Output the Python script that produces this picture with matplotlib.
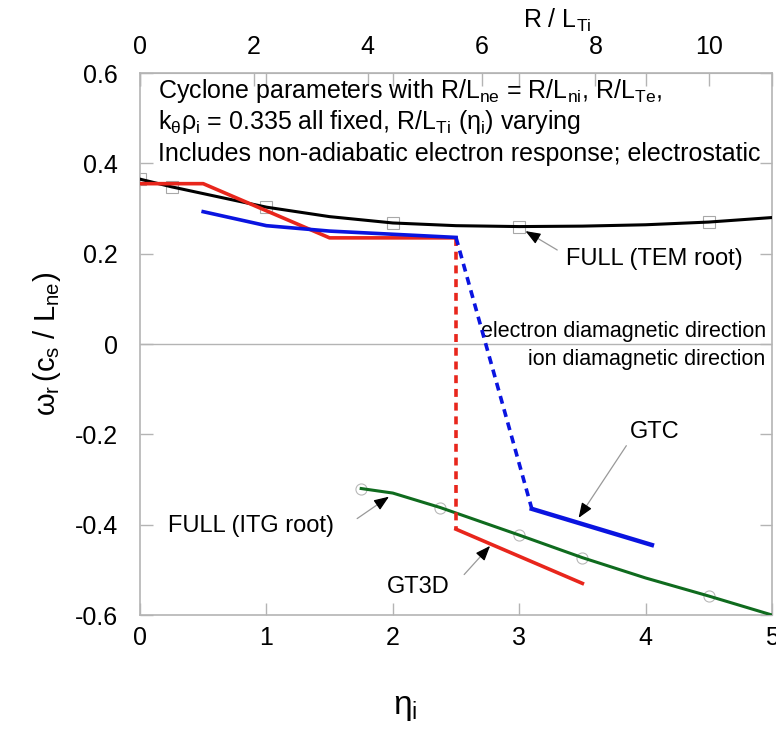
import numpy as np
import matplotlib
matplotlib.use("Agg")
import matplotlib.pyplot as plt

plt.rcParams['font.family'] = ['Liberation Sans', 'DejaVu Sans']
plt.rcParams['mathtext.fontset'] = 'custom'
plt.rcParams['mathtext.rm'] = 'Liberation Sans'
plt.rcParams['mathtext.it'] = 'Liberation Sans'
plt.rcParams['mathtext.sf'] = 'Liberation Sans'

# R/L_n for cyclone base case (top axis = eta_i * R/L_n)
r_ln = 2.22

# FULL (TEM root)
tem_eta = [0, 0.25, 0.5, 1.0, 1.5, 2.0, 2.5, 3.0, 3.5, 4.0, 4.5, 5.0]
tem_w = [0.365, 0.348, 0.333, 0.303, 0.282, 0.268, 0.262, 0.260, 0.261, 0.264, 0.270, 0.280]
tem_mark_eta = [0, 0.25, 1.0, 2.0, 3.0, 4.5]
tem_mark_w = [0.365, 0.348, 0.303, 0.268, 0.260, 0.270]

# FULL (ITG root)
itg_eta = [1.75, 2.0, 2.375, 3.0, 3.5, 4.0, 4.5, 5.0]
itg_w = [-0.320, -0.330, -0.362, -0.423, -0.473, -0.518, -0.558, -0.600]
itg_mark_eta = [1.75, 2.375, 3.0, 3.5, 4.5]
itg_mark_w = [-0.320, -0.362, -0.423, -0.473, -0.558]

# GT3D
gt3d_eta = [0, 0.5, 1.5, 2.5]
gt3d_w = [0.355, 0.355, 0.235, 0.235]
gt3d_jump_eta = [2.5, 2.5]
gt3d_jump_w = [0.235, -0.41]
gt3d_itg_eta = [2.5, 3.5]
gt3d_itg_w = [-0.41, -0.53]

# GTC
gtc_eta = [0.5, 1.0, 1.5, 2.0, 2.5]
gtc_w = [0.293, 0.262, 0.250, 0.243, 0.236]
gtc_jump_eta = [2.5, 3.1]
gtc_jump_w = [0.236, -0.365]
gtc_itg_eta = [3.1, 4.05]
gtc_itg_w = [-0.365, -0.445]

red = '#e8261c'
blue = '#0a14e0'
green = '#0f6b1e'
frame = '#b4b4b4'

fig = plt.figure(figsize=(7.76, 7.36), dpi=100)
ax = fig.add_axes([0.1804, 0.1644, 0.8144, 0.7364])

ax.axhline(0, color=frame, lw=1.0, zorder=1)

ax.plot(tem_mark_eta, tem_mark_w, ls='none', marker='s', ms=8, mfc='none', mec='#a8a8a8', mew=0.8, zorder=2)
ax.plot(itg_mark_eta, itg_mark_w, ls='none', marker='o', ms=8, mfc='none', mec='#b8b8b8', mew=0.8, zorder=2)

ax.plot(tem_eta, tem_w, color='k', lw=2.2, zorder=3)
ax.plot(itg_eta, itg_w, color=green, lw=2.2, zorder=3)

ax.plot(gt3d_eta, gt3d_w, color=red, lw=2.6, zorder=4)
ax.plot(gt3d_jump_eta, gt3d_jump_w, color=red, lw=2.6, ls=(0, (2.2, 1.6)), zorder=4)
ax.plot(gt3d_itg_eta, gt3d_itg_w, color=red, lw=2.6, zorder=4)

ax.plot(gtc_eta, gtc_w, color=blue, lw=2.6, zorder=4)
ax.plot(gtc_jump_eta, gtc_jump_w, color=blue, lw=2.6, ls=(0, (2.2, 1.6)), zorder=4)
ax.plot(gtc_itg_eta, gtc_itg_w, color=blue, lw=3.2, zorder=4)

ax.set_xlim(0, 5)
ax.set_ylim(-0.6, 0.6)
ax.set_xticks([0, 1, 2, 3, 4, 5])
ax.set_yticks([-0.6, -0.4, -0.2, 0, 0.2, 0.4, 0.6])
ax.set_yticklabels(['-0.6', '-0.4', '-0.2', '0', '0.2', '0.4', '0.6'])
ax.tick_params(direction='in', length=9, width=1, color=frame, labelsize=18,
               top=True, right=True, pad=8)
ax.tick_params(axis='y', pad=16)
for sp in ax.spines.values():
    sp.set_color(frame)
    sp.set_linewidth(1.2)

ax.set_xlabel(r'$\eta_\mathrm{i}$', fontsize=24, labelpad=30, x=0.42)
ax.set_ylabel(r'$\omega_\mathrm{r}\,\mathrm{(c_s\ /\ L_{ne})}$', fontsize=21, labelpad=8)

top = ax.secondary_xaxis('top', functions=(lambda x: x * r_ln, lambda x: x / r_ln))
top.set_xticks([0, 2, 4, 6, 8, 10])
top.tick_params(direction='in', length=9, width=1, color=frame, labelsize=18, pad=10)
top.spines['top'].set_color(frame)
top.set_xlabel(r'$\mathrm{R\ /\ L_{Ti}}$', fontsize=18, labelpad=5, x=0.66)

# header text
ax.text(0.14, 0.561, r'Cyclone parameters with R/L$_\mathrm{ne}$ = R/L$_\mathrm{ni}$, R/L$_\mathrm{Te}$,',
        fontsize=18, va='center')
ax.text(0.14, 0.492, r'k$_\mathrm{\theta}\rho_\mathrm{i}$ = 0.335 all fixed, R/L$_\mathrm{Ti}$ ($\eta_\mathrm{i}$) varying',
        fontsize=18, va='center')
ax.text(0.14, 0.420, 'Includes non-adiabatic electron response; electrostatic',
        fontsize=18, va='center')

ax.text(4.95, 0.028, 'electron diamagnetic direction', fontsize=15.5, ha='right', va='center')
ax.text(4.95, -0.035, 'ion diamagnetic direction', fontsize=15.5, ha='right', va='center')


def label_arrow(txt, tip, tail, textpos, **kw):
    ax.annotate('', xy=tip, xytext=tail,
                arrowprops=dict(arrowstyle='-', color='#999999', lw=0.9))
    d = np.array(tip) - np.array(tail)
    back = (tip[0] - 0.12 * d[0], tip[1] - 0.12 * d[1])
    ax.annotate('', xy=tip, xytext=back,
                arrowprops=dict(arrowstyle='-|>,head_length=0.9,head_width=0.35', color='k', lw=0.9,
                                shrinkA=0, shrinkB=0))
    ax.text(textpos[0], textpos[1], txt, fontsize=17, **kw)


label_arrow('FULL (TEM root)', (3.05, 0.250), (3.32, 0.205), (3.37, 0.188), va='center')
label_arrow('FULL (ITG root)', (1.97, -0.338), (1.70, -0.39), (0.22, -0.403), va='center')
label_arrow('GT3D', (2.77, -0.447), (2.55, -0.515), (1.95, -0.537), va='center')
label_arrow('GTC', (3.47, -0.385), (3.86, -0.22), (4.07, -0.195), va='center', ha='center')

fig.savefig('out.png', dpi=100)
